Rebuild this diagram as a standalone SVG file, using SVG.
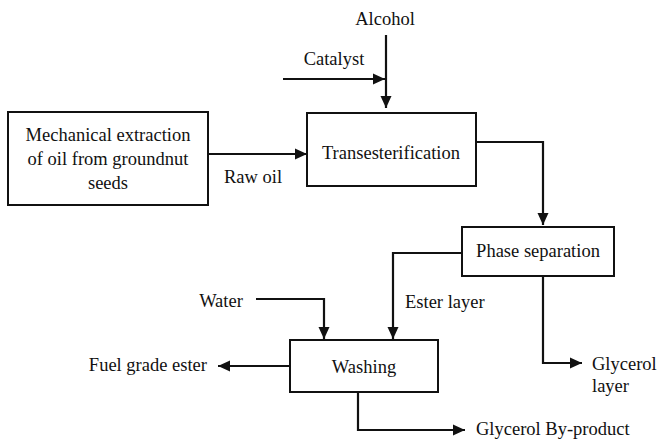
<svg xmlns="http://www.w3.org/2000/svg" width="658" height="441" viewBox="0 0 658 441">
<defs>
<marker id="ah" markerWidth="12" markerHeight="12" viewBox="0 0 12 12" refX="12" refY="6" orient="auto" markerUnits="userSpaceOnUse">
<path d="M0,0.5 L12,6 L0,11.5 Z" fill="#111"/>
</marker>
</defs>
<rect width="658" height="441" fill="#fff"/>
<g id="connectors" fill="none" stroke="#111" stroke-width="2.2">
<path d="M386,35 V108" marker-end="url(#ah)"/>
<path d="M283,79 H385" marker-end="url(#ah)"/>
<path d="M208,154 H307" marker-end="url(#ah)"/>
<path d="M476,142 H543 V225" marker-end="url(#ah)"/>
<path d="M462,253 H393 V339" marker-end="url(#ah)"/>
<path d="M256,299 H324 V339" marker-end="url(#ah)"/>
<path d="M290,366 H218" marker-end="url(#ah)"/>
<path d="M358,392 V430 H465" marker-end="url(#ah)"/>
<path d="M543,276 V363 H582" marker-end="url(#ah)"/>
</g>
<g id="labels" font-family="Liberation Serif" font-size="18.5" fill="#111">
<text x="385" y="25" text-anchor="middle">Alcohol</text>
<text x="334" y="65" text-anchor="middle">Catalyst</text>
<text x="253" y="183" text-anchor="middle">Raw oil</text>
<text x="405" y="308">Ester layer</text>
<text x="221" y="307" text-anchor="middle">Water</text>
<text x="207" y="371" text-anchor="end">Fuel grade ester</text>
<text x="476" y="435">Glycerol By-product</text>
<text x="592" y="370">Glycerol</text>
<text x="592" y="392">layer</text>
</g>
<g id="extraction" font-family="Liberation Serif" font-size="18.5" fill="#111">
<rect x="8" y="112" width="200" height="93" fill="#fff" stroke="#111" stroke-width="2"/>
<text x="108" y="141" text-anchor="middle">Mechanical extraction</text>
<text x="108" y="165" text-anchor="middle">of oil from groundnut</text>
<text x="108" y="189" text-anchor="middle">seeds</text>
</g>
<g id="transesterification" font-family="Liberation Serif" font-size="18.5" fill="#111">
<rect x="307" y="113" width="169" height="73" fill="#fff" stroke="#111" stroke-width="2"/>
<text x="391" y="159" text-anchor="middle">Transesterification</text>
</g>
<g id="phase-separation" font-family="Liberation Serif" font-size="18.5" fill="#111">
<rect x="462" y="227" width="152" height="49" fill="#fff" stroke="#111" stroke-width="2"/>
<text x="538" y="257" text-anchor="middle">Phase separation</text>
</g>
<g id="washing" font-family="Liberation Serif" font-size="18.5" fill="#111">
<rect x="290" y="340" width="148" height="52" fill="#fff" stroke="#111" stroke-width="2"/>
<text x="364" y="373" text-anchor="middle">Washing</text>
</g>
</svg>
